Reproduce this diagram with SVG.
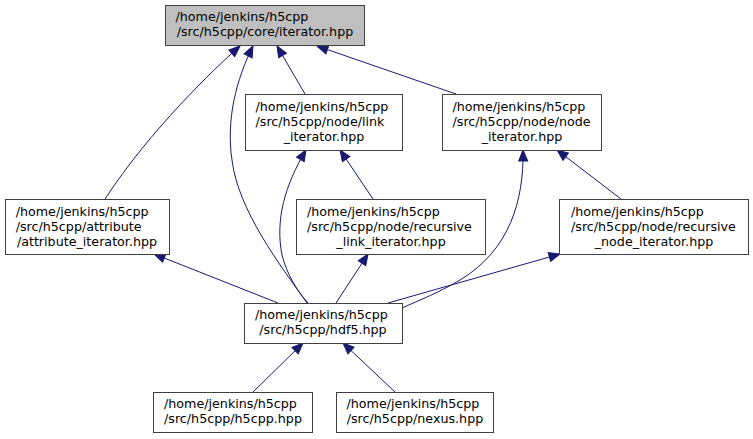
<svg xmlns="http://www.w3.org/2000/svg" width="753" height="439" viewBox="0 0 753 439">
<style>
.n rect{fill:#ffffff;stroke:#404040;stroke-width:1}
.n.root rect{fill:#bfbfbf}
.n text{font-family:"DejaVu Sans","Liberation Sans",sans-serif;font-size:12.7px;fill:#000}
.m{text-anchor:middle}
.e path{fill:none;stroke:#191970;stroke-width:1;marker-start:url(#ah)}
</style>
<defs>
<marker id="ah" markerUnits="userSpaceOnUse" markerWidth="14" markerHeight="12" refX="0" refY="0" viewBox="-12 -6 14 12" orient="auto-start-reverse">
<polygon points="0,0 -11,-4.5 -11,4.5" fill="#191970" stroke="#191970"/>
</marker>
</defs>
<rect width="753" height="439" fill="#ffffff"/>
<g class="e">
<path d="M240,46 C215,68 150,130 105,199"/>
<path d="M253,46 C236,80 226,120 232,160 C238,210 280,265 307,303"/>
<path d="M277,46 L305,94"/>
<path d="M317,46 L456,94"/>
<path d="M306,150 C285,185 275,220 282,255 C287,275 298,292 308,303"/>
<path d="M340,150 L373,199"/>
<path d="M368,254 L336,303"/>
<path d="M154,254 L278,303"/>
<path d="M523,150 C524,200 510,250 460,280 C440,292 420,300 402,308"/>
<path d="M557,150 L621,199"/>
<path d="M560,254 L388,303"/>
<path d="M303,343 L253,392"/>
<path d="M343,343 L395,392"/>
</g>
<g id="iterator" class="n root">
<rect x="165.5" y="5.5" width="199" height="40"/>
<text x="175.5" y="21">/home/jenkins/h5cpp</text>
<text x="265" y="36" class="m">/src/h5cpp/core/iterator.hpp</text>
</g>
<g id="link_iterator" class="n">
<rect x="245.5" y="94.5" width="157" height="56"/>
<text x="255.5" y="110.5">/home/jenkins/h5cpp</text>
<text x="255.5" y="125.5">/src/h5cpp/node/link</text>
<text x="324" y="140.5" class="m">_iterator.hpp</text>
</g>
<g id="node_iterator" class="n">
<rect x="442.5" y="94.5" width="159" height="56"/>
<text x="452.5" y="110.5">/home/jenkins/h5cpp</text>
<text x="452.5" y="125.5">/src/h5cpp/node/node</text>
<text x="522" y="140.5" class="m">_iterator.hpp</text>
</g>
<g id="attribute_iterator" class="n">
<rect x="5.5" y="199.5" width="164" height="55"/>
<text x="15.7" y="215.5">/home/jenkins/h5cpp</text>
<text x="15.7" y="230.5">/src/h5cpp/attribute</text>
<text x="87" y="245.5" class="m">/attribute_iterator.hpp</text>
</g>
<g id="recursive_link_iterator" class="n">
<rect x="296.5" y="199.5" width="189" height="55"/>
<text x="307" y="215.5">/home/jenkins/h5cpp</text>
<text x="307" y="230.5">/src/h5cpp/node/recursive</text>
<text x="391" y="245.5" class="m">_link_iterator.hpp</text>
</g>
<g id="recursive_node_iterator" class="n">
<rect x="559.5" y="199.5" width="189" height="55"/>
<text x="571" y="215.5">/home/jenkins/h5cpp</text>
<text x="571" y="230.5">/src/h5cpp/node/recursive</text>
<text x="654" y="245.5" class="m">_node_iterator.hpp</text>
</g>
<g id="hdf5" class="n">
<rect x="244.5" y="303.5" width="158" height="40"/>
<text x="255" y="319">/home/jenkins/h5cpp</text>
<text x="323" y="334" class="m">/src/h5cpp/hdf5.hpp</text>
</g>
<g id="h5cpp" class="n">
<rect x="153.5" y="392.5" width="159" height="40"/>
<text x="164" y="408">/home/jenkins/h5cpp</text>
<text x="233" y="423" class="m">/src/h5cpp/h5cpp.hpp</text>
</g>
<g id="nexus" class="n">
<rect x="336.5" y="392.5" width="157" height="40"/>
<text x="346.5" y="408">/home/jenkins/h5cpp</text>
<text x="415" y="423" class="m">/src/h5cpp/nexus.hpp</text>
</g>
</svg>
